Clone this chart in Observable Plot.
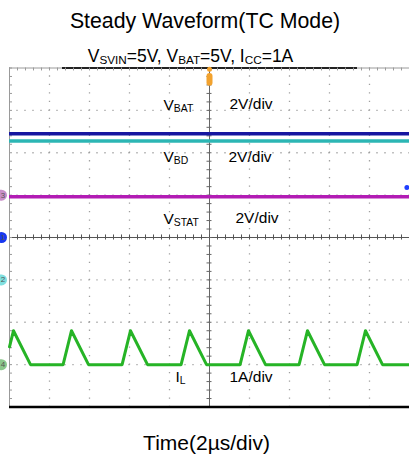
<!DOCTYPE html>
<html><head><meta charset="utf-8">
<script src="https://cdn.jsdelivr.net/npm/d3@7"></script>
<script src="https://cdn.jsdelivr.net/npm/@observablehq/plot@0.6"></script>
<style>
body{margin:0;background:#fff;}
#chart{width:409px;height:455px;overflow:hidden;}
</style>
</head><body><div id="chart"></div>
<script>
// ---- chart text ----
const title = "Steady Waveform(TC Mode)";
const subtitle = "V{SVIN}=5V, V{BAT}=5V, I{CC}=1A";
const xLabel = "Time(2µs/div)";

// ---- scope settings (10 x 2µs divisions, 8 vertical divisions) ----
const timeDomain = [0, 20];          // µs
const divDomain = [-4, 4];           // divisions
const majorT = [2, 4, 6, 8, 12, 14, 16, 18];
const majorDiv = [-3, -2, -1, 1, 2, 3];

// ---- channels ----
const channels   = ["VBAT", "VBD", "VSTAT", "IL"];
const chNumbers  = ["1", "2", "3", "4"];
const groundDiv  = [0, -1, 1, -3];       // ground marker position (div)
const unitsPerDiv = [2, 2, 2, 1];        // V/div, V/div, V/div, A/div
const levels     = [4.9, 6.56, -0.08];   // DC levels of VBAT, VBD, VSTAT (V)

// ---- inductor current IL (A) ----
const tIL = [0, 0.2, 1.05, 2.68, 3.1, 3.95, 5.63, 6.05, 6.9, 8.58, 9.0, 9.85, 11.53, 11.95, 12.8, 14.48, 14.9, 15.75, 17.38, 17.8, 18.65, 20];
const iL  = [0.42, 0.8, 0, 0, 0.8, 0, 0, 0.8, 0, 0, 0.8, 0, 0, 0.8, 0, 0, 0.8, 0, 0, 0.8, 0, 0];

// ---- in-screen labels ----
const labelText = ["V{BAT}", "2V/div", "V{BD}", "2V/div", "V{STAT}", "2V/div", "I{L}", "1A/div"];
const labelT    = [7.7, 11.0, 7.7, 10.95, 7.7, 11.3, 8.3, 11.0];
const labelDiv  = [3.13, 3.14, 1.895, 1.895, 0.44, 0.455, -3.30, -3.30];

const colors = ["#1616a0", "#2cb6b4", "#b21cb4", "#26b426"];
const markerColors = ["#1838f0", "#80e0e0", "#c88ec8", "#8cc88c"];

// derived tables
const toDiv = (ch, v) => groundDiv[ch] + v / unitsPerDiv[ch];
const dcTraces = levels.map((v, i) => ({ch: channels[i], div: toDiv(i, v), color: colors[i]}));
const ilTrace = tIL.map((t, i) => ({t, div: toDiv(3, iL[i])}));
const labels = labelText.map((s, i) => ({s, t: labelT[i], div: labelDiv[i]}));
const markers = channels.map((c, i) => ({n: chNumbers[i], div: groundDiv[i], color: markerColors[i]}));

const minorT = d3.range(0, 20.001, 0.4);
const minorDiv = d3.range(-4, 4.001, 0.2);

const font = "'Liberation Sans', Arial, Helvetica, sans-serif";

const chart = Plot.plot({
  width: 409,
  height: 455,
  marginLeft: 9,
  marginRight: 0,
  marginTop: 67.5,
  marginBottom: 48.5,
  x: {domain: timeDomain, axis: null},
  y: {domain: divDomain, axis: null},
  style: {fontFamily: font, background: "#fff", overflow: "visible", color: "#000"},
  marks: [
    // dotted graticule
    Plot.ruleX(majorT, {stroke: "#a0a0a0", strokeWidth: 1.3, strokeDasharray: "1.3 7.175", strokeDashoffset: 0.65}),
    Plot.ruleY(majorDiv, {stroke: "#a0a0a0", strokeWidth: 1.3, strokeDasharray: "1.3 6.7", strokeDashoffset: 0.65}),
    // centre axes with minor ticks
    Plot.ruleX([10], {stroke: "#666", strokeWidth: 1}),
    Plot.ruleY([0], {stroke: "#555", strokeWidth: 1}),
    Plot.ruleX(minorT, {y1: -0.06, y2: 0.06, stroke: "#555", strokeWidth: 1}),
    Plot.ruleY(minorDiv, {x1: 9.875, x2: 10.125, stroke: "#666", strokeWidth: 1}),
    // frame
    Plot.ruleY([4], {stroke: "#9a9a9a", strokeWidth: 1}),
    Plot.ruleY([4], {x1: 2.65, x2: 17.4, stroke: "#222", strokeWidth: 2}),
    Plot.ruleX(minorT, {y1: 4, y2: 3.93, stroke: "#9a9a9a", strokeWidth: 1}),
    Plot.ruleX([0], {stroke: "#9a9a9a", strokeWidth: 1}),
    Plot.ruleY(minorDiv, {x1: 0, x2: 0.15, stroke: "#9a9a9a", strokeWidth: 1}),
    Plot.ruleY([-4], {stroke: "#000", strokeWidth: 2.5}),
    // traces
    Plot.ruleY(dcTraces, {y: "div", stroke: "color", strokeWidth: 3.5}),
    Plot.line(ilTrace, {x: "t", y: "div", stroke: colors[3], strokeWidth: 3, strokeLinejoin: "round"}),
    // trigger markers
    Plot.ruleX([10], {y1: 3.80, y2: 3.64, stroke: "#f2a22e", strokeWidth: 6, strokeLinecap: "round"}),
    Plot.dot([10], {x: d => d, y: 3.97, r: 2.5, fill: "#f2a22e", stroke: "none"}),
    Plot.dot([19.87], {x: d => d, y: 1.18, r: 2.5, fill: "#2040ff", stroke: "none"}),
    // channel ground markers
    Plot.dot(markers, {x: -0.4, y: "div", r: 5.5, fill: "color", stroke: "none"}),
    Plot.text(markers, {x: -0.33, y: "div", text: "n", fontSize: 8, fill: "#555"}),
    // labels
    Plot.text(labels, {x: "t", y: "div", text: "s", textAnchor: "start", lineAnchor: "middle", fontSize: 15.5, fill: "#000"}),
    // titles
    Plot.text([title], {frameAnchor: "top", dx: -4.5, dy: -47, lineAnchor: "middle", fontSize: 21.3, fill: "#000"}),
    Plot.text([subtitle], {frameAnchor: "top", dx: -19, dy: -12, lineAnchor: "middle", fontSize: 17.5, fill: "#000"}),
    Plot.text([xLabel], {frameAnchor: "bottom", dx: -3, dy: 36.5, lineAnchor: "middle", fontSize: 21, fill: "#000"})
  ]
});

document.getElementById("chart").appendChild(chart);

// convert {…} into subscripts
d3.select(chart).selectAll("text").each(function() {
  const el = this;
  const txt = el.textContent;
  if (!txt.includes("{")) return;
  const fs = parseFloat(getComputedStyle(el).fontSize);
  const sub = fs * 0.67, shift = fs * 0.11;
  const parts = txt.split(/(\{[^}]*\})/).filter(p => p.length);
  el.textContent = "";
  let down = false;
  for (const p of parts) {
    const ts = document.createElementNS("http://www.w3.org/2000/svg", "tspan");
    if (p.startsWith("{")) {
      ts.textContent = p.slice(1, -1);
      ts.setAttribute("font-size", sub);
      if (!down) { ts.setAttribute("dy", shift); down = true; }
    } else {
      ts.textContent = p;
      if (down) { ts.setAttribute("dy", -shift); down = false; }
    }
    el.appendChild(ts);
  }
});
</script>
</body></html>
